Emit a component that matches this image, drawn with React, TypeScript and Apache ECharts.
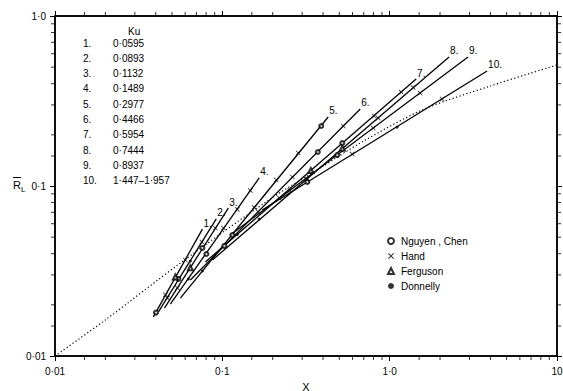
import React, { useEffect, useRef } from "react";
import * as echarts from "echarts";

// ---- data ----
const lineNames = ["1.", "2.", "3.", "4.", "5.", "6.", "7.", "8.", "9.", "10."];
const lineStart = [
  [0.0387, 0.017], [0.0415, 0.0182], [0.0451, 0.0191], [0.0489, 0.0202], [0.0561, 0.0219],
  [0.0644, 0.028], [0.0792, 0.0357], [0.0872, 0.0367], [0.1116, 0.0515], [0.173, 0.0722],
];
const lineEnd = [
  [0.076, 0.0558], [0.092, 0.064], [0.1086, 0.0742], [0.166, 0.1115], [0.429, 0.2547],
  [0.667, 0.284], [1.439, 0.426], [2.265, 0.574], [2.94, 0.574], [3.82, 0.475],
];
const curveX = [0.01, 0.02, 0.0561, 0.1935, 0.385, 0.667, 1.563, 3.98, 10];
const curveY = [0.01, 0.0163, 0.0352, 0.0839, 0.1276, 0.179, 0.28, 0.387, 0.515];

const nguyenChen = [
  [0.0401, 0.018], [0.0546, 0.0284], [0.076, 0.0432], [0.0803, 0.0398], [0.39, 0.2254],
  [0.1147, 0.0515], [0.372, 0.1585], [0.1028, 0.0444], [0.521, 0.179], [0.486, 0.152], [0.322, 0.1056],
];
const hand = [
  [0.0457, 0.0229], [0.0601, 0.0367], [0.047, 0.0219], [0.0755, 0.0469], [0.0539, 0.0251],
  [0.0908, 0.0566], [0.1014, 0.0566], [0.1229, 0.0728], [0.147, 0.094], [0.1552, 0.0747],
  [0.21, 0.1085], [0.284, 0.1564], [0.164, 0.0703], [0.262, 0.113], [0.528, 0.2254],
  [0.219, 0.085], [0.808, 0.258], [1.172, 0.357], [0.322, 0.11], [0.853, 0.251], [1.381, 0.38],
  [0.253, 0.0941], [0.797, 0.219], [1.52, 0.352], [0.597, 0.154], [2.057, 0.325],
];
const ferguson = [[0.0524, 0.0292], [0.0644, 0.033], [0.338, 0.1234], [0.521, 0.167]];
const donnelly = [[0.0644, 0.0362], [0.0627, 0.0284], [0.076, 0.0316], [0.1229, 0.0519], [0.166, 0.064], [1.109, 0.222]];

const kuIndex = ["1.", "2.", "3.", "4.", "5.", "6.", "7.", "8.", "9.", "10."];
const kuValues = ["0·0595", "0·0893", "0·1132", "0·1489", "0·2977", "0·4466", "0·5954", "0·7444", "0·8937", "1·447–1·957"];

const xTickLabels = ["0·01", "0·1", "1·0", "10"];
const yTickLabels = ["0·01", "0·1", "1·0"];
const minorMantissas = [1.5, 2, 3, 4, 5, 6, 7, 8, 9];
const xDecades = [0.01, 0.1, 1];
const yDecades = [0.01, 0.1];

const X_MIN = 0.01, X_MAX = 10, Y_MIN = 0.01, Y_MAX = 1;
const FONT = "Liberation Sans";
const CROSS = "path://M0,1.2L1.2,0L5,3.8L8.8,0L10,1.2L6.2,5L10,8.8L8.8,10L5,6.2L1.2,10L0,8.8L3.8,5Z";

export default function App() {
  const ref = useRef<HTMLDivElement>(null);
  useEffect(() => {
    if (!ref.current) return;
    const chart = echarts.init(ref.current, null, { renderer: "svg" });

    const fitSeries = lineNames.map((name, i) => ({
      type: "line",
      name,
      data: [lineStart[i], lineEnd[i]],
      symbol: "none",
      lineStyle: { color: "#000", width: 1.3 },
      endLabel: { show: true, formatter: name, offset: [-7, -6], color: "#000", fontSize: 10, fontFamily: FONT },
      z: 3,
    }));

    // minor tick marks as small rect symbols on the frame, pointing outward
    const tickData: any[] = [];
    xDecades.forEach((d) =>
      minorMantissas.forEach((m) => {
        tickData.push({ value: [d * m, Y_MIN], symbolSize: [1, 4], symbolOffset: [0, 2] });
        tickData.push({ value: [d * m, Y_MAX], symbolSize: [1, 4], symbolOffset: [0, -2] });
      })
    );
    yDecades.forEach((d) =>
      minorMantissas.forEach((m) => {
        tickData.push({ value: [X_MIN, d * m], symbolSize: [4, 1], symbolOffset: [-2, 0] });
        tickData.push({ value: [X_MAX, d * m], symbolSize: [4, 1], symbolOffset: [2, 0] });
      })
    );

    const line = { show: true, onZero: false, lineStyle: { color: "#000", width: 1.5 } };
    const tick = { show: true, length: 5, lineStyle: { color: "#000", width: 1 } };
    const labelStyle = { color: "#000", fontSize: 10, fontFamily: FONT };

    const option: any = {
      animation: false,
      grid: { left: 55, right: 6, top: 16, bottom: 35, outerBoundsMode: "none" },
      xAxis: [
        {
          type: "log",
          min: X_MIN,
          max: X_MAX,
          axisLine: line,
          axisTick: tick,
          splitLine: { show: false },
          name: "X",
          nameLocation: "middle",
          nameGap: 25,
          nameTextStyle: { color: "#000", fontSize: 11, fontFamily: FONT },
          axisLabel: {
            ...labelStyle,
            margin: 10,
            formatter: (v: number) => xTickLabels[Math.round(Math.log10(v)) + 2] ?? "",
          },
        },
        {
          type: "log",
          min: X_MIN,
          max: X_MAX,
          position: "top",
          axisLine: line,
          axisTick: tick,
          splitLine: { show: false },
          axisLabel: { show: false },
        },
      ],
      yAxis: [
        {
          type: "log",
          min: Y_MIN,
          max: Y_MAX,
          axisLine: line,
          axisTick: tick,
          splitLine: { show: false },
          axisLabel: {
            ...labelStyle,
            margin: 9,
            formatter: (v: number) => yTickLabels[Math.round(Math.log10(v)) + 2] ?? "",
          },
        },
        {
          type: "log",
          min: Y_MIN,
          max: Y_MAX,
          position: "right",
          axisLine: line,
          axisTick: tick,
          splitLine: { show: false },
          axisLabel: { show: false },
        },
      ],
      legend: {
        orient: "vertical",
        left: 382,
        top: 231,
        itemWidth: 6,
        itemHeight: 6,
        itemGap: 5,
        textStyle: { color: "#000", fontSize: 10, fontFamily: FONT, padding: [0, 0, 0, 2] },
        data: [
          { name: "Nguyen , Chen", icon: "emptyCircle", itemStyle: { color: "#000", borderColor: "#000", borderWidth: 1 } },
          { name: "Hand", icon: CROSS, itemStyle: { color: "#000" } },
          { name: "Ferguson", icon: "emptyTriangle", itemStyle: { color: "#000", borderColor: "#000", borderWidth: 1 } },
          { name: "Donnelly", icon: "circle", itemStyle: { color: "#000" } },
        ],
      },
      graphic: [
        { type: "text", left: 128, top: 26, style: { text: "Ku", fill: "#000", font: `10px ${FONT}` } },
        ...kuIndex.map((t, i) => ({
          type: "text",
          x: 83,
          y: 43 + i * 15.3,
          style: { text: t, fill: "#000", font: `10px ${FONT}`, verticalAlign: "middle" },
        })),
        ...kuValues.map((t, i) => ({
          type: "text",
          x: 113,
          y: 43 + i * 15.3,
          style: { text: t, fill: "#000", font: `10px ${FONT}`, verticalAlign: "middle" },
        })),
        { type: "text", x: 13, y: 185, style: { text: "R", fill: "#000", font: `11px ${FONT}`, verticalAlign: "middle" } },
        { type: "polyline", shape: { points: [[13, 177.5], [21, 177.5]] }, style: { stroke: "#000", lineWidth: 1, fill: null } },
        { type: "text", x: 21, y: 189, style: { text: "L", fill: "#000", font: `8px ${FONT}`, verticalAlign: "middle" } },
      ],
      series: [
        {
          type: "line",
          name: "frame",
          data: [[X_MIN, Y_MIN], [X_MAX, Y_MIN], [X_MAX, Y_MAX], [X_MIN, Y_MAX], [X_MIN, Y_MIN]],
          symbol: "none",
          clip: false,
          lineStyle: { color: "#000", width: 1.5 },
          z: 6,
        },
        {
          type: "scatter",
          name: "ticks",
          data: tickData,
          symbol: "rect",
          clip: false,
          itemStyle: { color: "#000" },
          z: 6,
        },
        ...fitSeries,
        {
          type: "line",
          name: "curve",
          data: curveX.map((x, i) => [x, curveY[i]]),
          symbol: "none",
          smooth: 0.3,
          lineStyle: { color: "#000", width: 1.2, type: [1.2, 2.4] },
          z: 2,
        },
        {
          type: "scatter",
          name: "Nguyen , Chen",
          data: nguyenChen,
          symbol: "emptyCircle",
          symbolSize: 4,
          itemStyle: { color: "#000", borderColor: "#000", borderWidth: 0.9 },
          z: 4,
        },
        {
          type: "scatter",
          name: "Hand",
          data: hand,
          symbol: CROSS,
          symbolSize: 5,
          itemStyle: { color: "#000" },
          z: 4,
        },
        {
          type: "scatter",
          name: "Ferguson",
          data: ferguson,
          symbol: "emptyTriangle",
          symbolSize: 5,
          itemStyle: { color: "#000", borderColor: "#000", borderWidth: 0.9 },
          z: 4,
        },
        {
          type: "scatter",
          name: "Donnelly",
          data: donnelly,
          symbol: "circle",
          symbolSize: 3,
          itemStyle: { color: "#000" },
          z: 4,
        },
      ],
    };
    chart.setOption(option);
    return () => chart.dispose();
  }, []);
  return (
    <div
      ref={ref}
      style={{ position: "absolute", left: 0, top: 0, width: 563, height: 391, background: "#fff" }}
    />
  );
}
